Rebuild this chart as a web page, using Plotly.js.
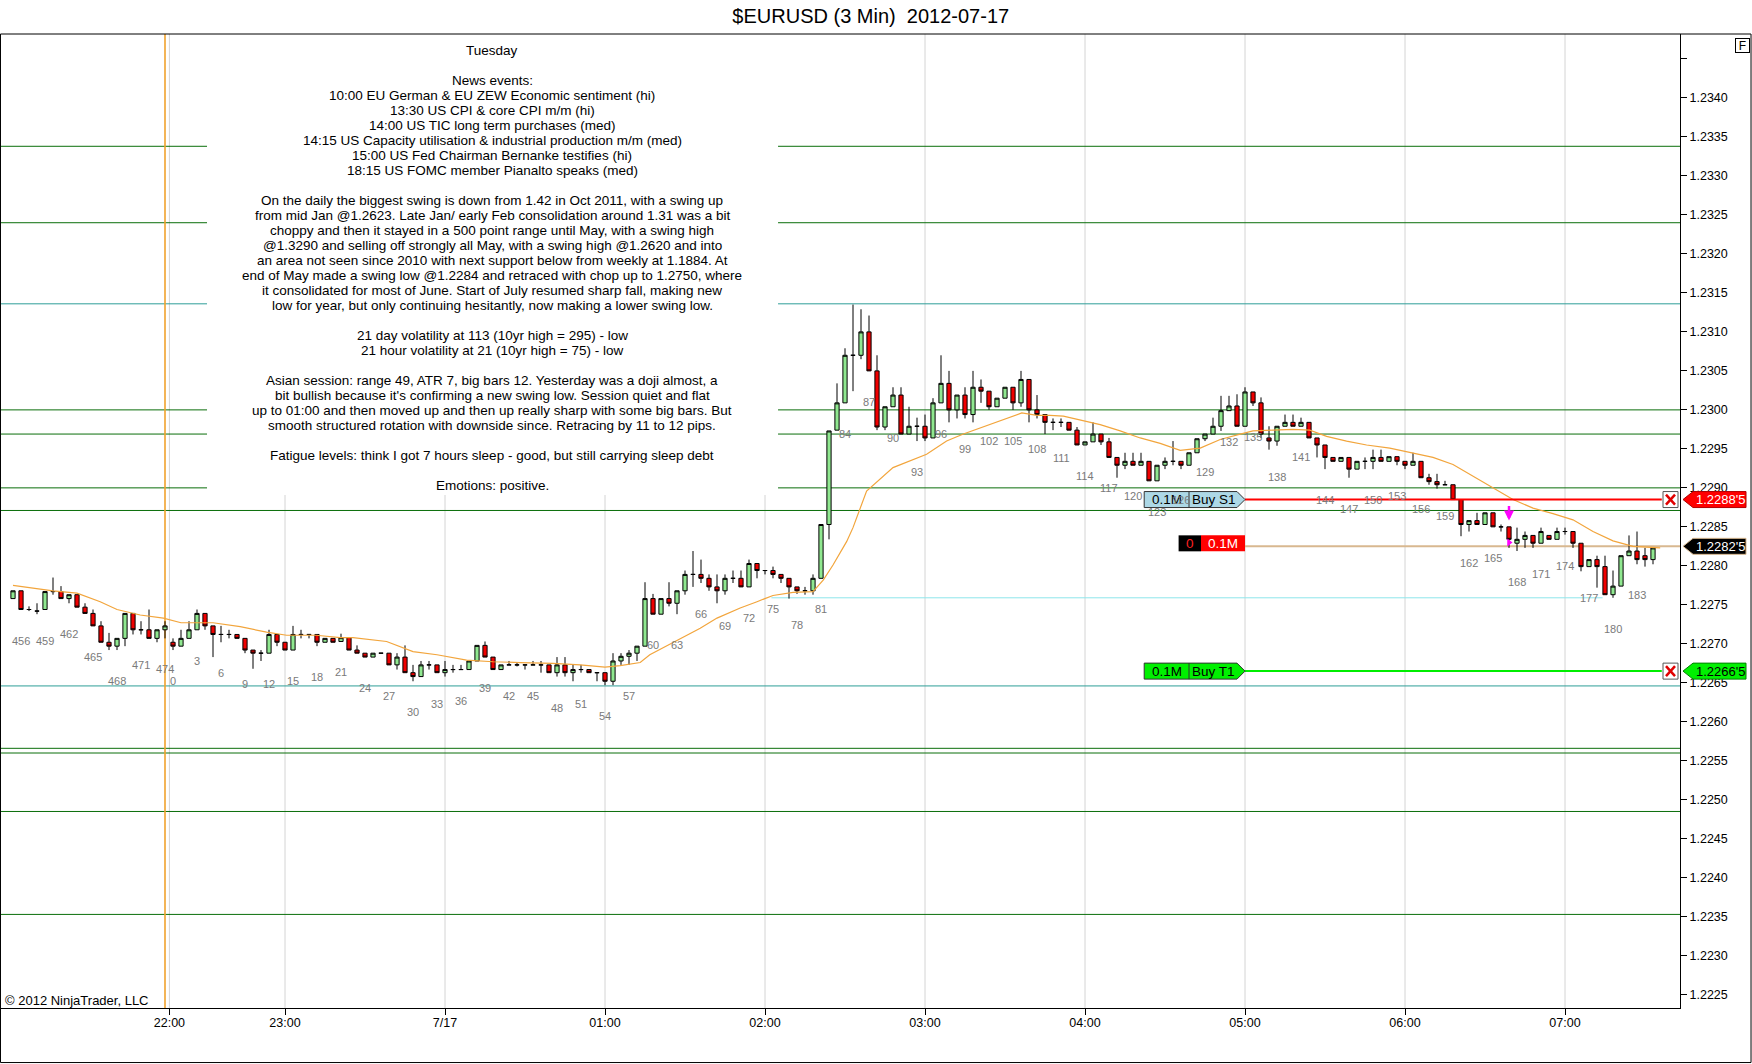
<!DOCTYPE html>
<html>
<head>
<meta charset="utf-8">
<script src="https://cdn.plot.ly/plotly-3.0.1.min.js"></script>
<style>html,body{margin:0;padding:0;background:#fff;}#chart{width:1752px;height:1064px;}</style>
</head>
<body>
<div id="chart"></div>
<script>
// ---------------- DATA ----------------
// bar numbers: previous session 455..474, then new session 0..185
const prevSessionFirstBar = 455, prevSessionLastBar = 474, sessionLastBar = 185;

const open = [
1.22758,1.22768,1.22744,1.22742,1.22744,1.22767,1.22767,1.22758,1.22763,1.22747,
1.22739,1.22723,1.22702,1.22697,1.22707,1.22739,1.22718,1.22718,1.22707,1.22718,
1.22702,1.22697,1.22707,1.22718,1.22739,1.22723,1.22712,1.22712,1.22712,1.22707,
1.22692,1.22688,1.22688,1.22712,1.22702,1.22692,1.22712,1.22712,1.22712,1.22702,
1.22707,1.22703,1.22708,1.22692,1.22688,1.22683,1.22688,1.22688,1.22673,1.22683,
1.22663,1.22658,1.22673,1.22673,1.22663,1.22667,1.22667,1.22667,1.22678,1.22698,
1.22683,1.22667,1.22673,1.22673,1.22673,1.22673,1.22673,1.22673,1.22663,1.22673,
1.22663,1.22667,1.22667,1.22663,1.22663,1.22652,1.22678,1.22684,1.22688,1.22697,
1.22758,1.22738,1.22758,1.22752,1.22768,1.22789,1.22789,1.22784,1.22773,1.22768,
1.22784,1.22784,1.22773,1.22803,1.22794,1.22794,1.22789,1.22784,1.22773,1.22768,
1.22768,1.22784,1.22853,1.22974,1.23009,1.23070,1.23070,1.23100,1.23050,1.22978,
1.23004,1.23019,1.22969,1.22979,1.22979,1.22964,1.23009,1.23034,1.23000,1.23019,
1.22994,1.23029,1.23024,1.23004,1.23015,1.23029,1.23009,1.23039,1.23000,1.22994,
1.22984,1.22984,1.22984,1.22974,1.22955,1.22959,1.22969,1.22959,1.22939,1.22929,
1.22934,1.22929,1.22934,1.22909,1.22929,1.22934,1.22934,1.22929,1.22945,1.22963,
1.22969,1.22979,1.22999,1.23005,1.22979,1.23023,1.23009,1.22964,1.22960,1.22979,
1.22984,1.22979,1.22984,1.22964,1.22955,1.22939,1.22934,1.22939,1.22924,1.22934,
1.22934,1.22939,1.22934,1.22940,1.22934,1.22929,1.22934,1.22913,1.22908,1.22904,
1.22904,1.22885,1.22853,1.22858,1.22853,1.22868,1.22850,1.22850,1.22829,1.22834,
1.22839,1.22829,1.22839,1.22834,1.22844,1.22844,1.22829,1.22799,1.22808,1.22799,
1.22763,1.22774,1.22813,1.22819,1.22813,1.22808];
const high = [
1.22768,1.22768,1.22748,1.22752,1.22767,1.22785,1.22774,1.22763,1.22763,1.22752,
1.22744,1.22729,1.22714,1.22707,1.22739,1.22739,1.22729,1.22744,1.22718,1.22729,
1.22707,1.22718,1.22729,1.22744,1.22739,1.22723,1.22723,1.22718,1.22712,1.22707,
1.22692,1.22692,1.22718,1.22712,1.22702,1.22723,1.22718,1.22712,1.22712,1.22707,
1.22707,1.22713,1.22708,1.22698,1.22688,1.22688,1.22688,1.22688,1.22688,1.22698,
1.22673,1.22678,1.22678,1.22673,1.22678,1.22673,1.22673,1.22678,1.22698,1.22703,
1.22683,1.22673,1.22678,1.22676,1.22673,1.22678,1.22678,1.22673,1.22683,1.22683,
1.22673,1.22673,1.22667,1.22663,1.22663,1.22688,1.22688,1.22692,1.22697,1.22779,
1.22764,1.22758,1.22779,1.22768,1.22794,1.22819,1.22808,1.22789,1.22789,1.22789,
1.22794,1.22794,1.22808,1.22803,1.22794,1.22799,1.22789,1.22784,1.22773,1.22773,
1.22789,1.22853,1.22973,1.23034,1.23079,1.23135,1.23129,1.23121,1.23070,1.23004,
1.23029,1.23029,1.23004,1.22990,1.22994,1.23015,1.23070,1.23050,1.23019,1.23029,
1.23050,1.23039,1.23024,1.23015,1.23029,1.23029,1.23050,1.23039,1.23019,1.22994,
1.22989,1.22989,1.22984,1.22978,1.22959,1.22984,1.22969,1.22964,1.22939,1.22945,
1.22945,1.22945,1.22934,1.22929,1.22939,1.22960,1.22934,1.22945,1.22963,1.22969,
1.22990,1.23018,1.23018,1.23020,1.23029,1.23023,1.23016,1.22979,1.22979,1.22994,
1.22994,1.22990,1.22984,1.22964,1.22955,1.22939,1.22939,1.22939,1.22934,1.22939,
1.22949,1.22949,1.22940,1.22940,1.22934,1.22945,1.22934,1.22918,1.22918,1.22909,
1.22904,1.22885,1.22858,1.22868,1.22868,1.22868,1.22853,1.22850,1.22849,1.22844,
1.22839,1.22849,1.22839,1.22849,1.22849,1.22844,1.22829,1.22808,1.22813,1.22813,
1.22794,1.22813,1.22839,1.22844,1.22823,1.22823];
const low = [
1.22758,1.22744,1.22742,1.22738,1.22744,1.22763,1.22758,1.22752,1.22747,1.22739,
1.22723,1.22702,1.22692,1.22692,1.22697,1.22712,1.22712,1.22707,1.22702,1.22707,
1.22692,1.22697,1.22707,1.22718,1.22718,1.22683,1.22702,1.22707,1.22707,1.22688,
1.22668,1.22678,1.22688,1.22697,1.22692,1.22692,1.22707,1.22707,1.22697,1.22702,
1.22702,1.22703,1.22692,1.22688,1.22683,1.22683,1.22688,1.22673,1.22667,1.22663,
1.22652,1.22658,1.22667,1.22663,1.22658,1.22663,1.22667,1.22667,1.22678,1.22683,
1.22667,1.22667,1.22673,1.22671,1.22667,1.22673,1.22663,1.22663,1.22658,1.22658,
1.22652,1.22663,1.22663,1.22652,1.22647,1.22647,1.22673,1.22673,1.22678,1.22697,
1.22738,1.22738,1.22748,1.22738,1.22763,1.22773,1.22778,1.22768,1.22752,1.22763,
1.22778,1.22773,1.22773,1.22784,1.22789,1.22784,1.22778,1.22758,1.22764,1.22763,
1.22763,1.22784,1.22834,1.22974,1.23009,1.23024,1.23065,1.23050,1.22974,1.22974,
1.23004,1.22969,1.22969,1.22960,1.22960,1.22964,1.23009,1.22984,1.22989,1.22989,
1.22984,1.23009,1.23000,1.23004,1.23015,1.23000,1.23004,1.22984,1.22989,1.22969,
1.22974,1.22978,1.22974,1.22955,1.22955,1.22959,1.22955,1.22939,1.22913,1.22924,
1.22929,1.22929,1.22909,1.22909,1.22924,1.22929,1.22924,1.22929,1.22945,1.22960,
1.22969,1.22973,1.22999,1.22979,1.22979,1.23005,1.22964,1.22949,1.22954,1.22979,
1.22979,1.22979,1.22964,1.22939,1.22924,1.22934,1.22934,1.22913,1.22924,1.22924,
1.22924,1.22934,1.22934,1.22929,1.22924,1.22929,1.22913,1.22904,1.22899,1.22904,
1.22885,1.22838,1.22844,1.22853,1.22853,1.22850,1.22844,1.22823,1.22819,1.22823,
1.22823,1.22829,1.22834,1.22834,1.22840,1.22823,1.22793,1.22799,1.22772,1.22763,
1.22759,1.22774,1.22813,1.22802,1.22799,1.22802];
const close = [
1.22768,1.22744,1.22744,1.22742,1.22767,1.22767,1.22758,1.22763,1.22747,1.22739,
1.22723,1.22702,1.22697,1.22707,1.22739,1.22718,1.22718,1.22707,1.22718,1.22723,
1.22697,1.22707,1.22718,1.22739,1.22723,1.22712,1.22712,1.22712,1.22707,1.22692,
1.22688,1.22688,1.22712,1.22702,1.22692,1.22712,1.22712,1.22712,1.22702,1.22707,
1.22702,1.22708,1.22692,1.22688,1.22683,1.22688,1.22688,1.22673,1.22683,1.22663,
1.22658,1.22673,1.22673,1.22663,1.22667,1.22667,1.22667,1.22678,1.22698,1.22683,
1.22667,1.22673,1.22673,1.22673,1.22673,1.22673,1.22673,1.22663,1.22673,1.22663,
1.22667,1.22667,1.22663,1.22663,1.22652,1.22678,1.22684,1.22688,1.22697,1.22758,
1.22738,1.22758,1.22752,1.22768,1.22789,1.22789,1.22784,1.22773,1.22768,1.22784,
1.22784,1.22773,1.22803,1.22794,1.22794,1.22789,1.22784,1.22773,1.22768,1.22768,
1.22784,1.22853,1.22973,1.23009,1.23070,1.23070,1.23100,1.23050,1.22978,1.23004,
1.23019,1.22969,1.22979,1.22979,1.22964,1.23009,1.23034,1.23000,1.23019,1.22994,
1.23029,1.23024,1.23004,1.23015,1.23029,1.23009,1.23039,1.23000,1.22994,1.22984,
1.22984,1.22984,1.22974,1.22955,1.22959,1.22969,1.22959,1.22939,1.22929,1.22934,
1.22929,1.22934,1.22909,1.22929,1.22934,1.22934,1.22929,1.22945,1.22963,1.22969,
1.22979,1.22999,1.23005,1.22979,1.23023,1.23009,1.22969,1.22960,1.22979,1.22984,
1.22979,1.22984,1.22964,1.22955,1.22939,1.22934,1.22939,1.22924,1.22934,1.22934,
1.22939,1.22934,1.22940,1.22934,1.22929,1.22934,1.22913,1.22908,1.22904,1.22904,
1.22885,1.22853,1.22858,1.22853,1.22868,1.22850,1.22850,1.22834,1.22834,1.22839,
1.22829,1.22844,1.22834,1.22844,1.22844,1.22829,1.22799,1.22808,1.22799,1.22763,
1.22774,1.22813,1.22819,1.22808,1.22808,1.22823];

// moving average line (bar position, price)
const maPos = [0,5.0,8.0,10.9,13.0,15.9,18.8,21.0,25.0,28.4,31.7,34.2,37.9,40.9,42.5,46.7,50.0,53.0,56.7,60.0,
63.4,67.5,70.9,74.0,75.9,78.4,79.6,81.7,83.8,85.9,88.0,90.9,93.0,95.0,97.5,100.0,101.3,102.5,104.2,105.0,
106.7,110.0,114.2,116.7,118.8,120.9,123.0,124.6,126.1,128.0,129.6,131.3,133.8,135.9,138.4,140.9,143.4,145.9,148.4,150.9,
153.4,155.0,157.5,160.0,162.1,164.2,166.7,169.2,172.1,175.0,177.5,180.0,182.5,185.0,187.5,190.0,192.5,195.0,197.5,200.0,
202.5,204.2,205.9];
const maVal = [1.22775,1.22768,1.22765,1.22754,1.22744,1.22737,1.22733,1.22727,1.22727,1.22722,1.22715,1.22711,1.22711,1.22708,1.22708,1.22703,1.22690,1.22686,1.22679,1.22677,
1.22676,1.22675,1.22673,1.22670,1.22672,1.22676,1.22686,1.22697,1.22709,1.22720,1.22733,1.22746,1.22754,1.22762,1.22766,1.22767,1.22782,1.22801,1.22831,1.22849,
1.22896,1.22926,1.22943,1.22960,1.22969,1.22977,1.22984,1.22991,1.22996,1.22993,1.22993,1.22992,1.22986,1.22981,1.22973,1.22964,1.22957,1.22948,1.22951,1.22962,
1.22969,1.22973,1.22974,1.22975,1.22974,1.22966,1.22960,1.22955,1.22951,1.22945,1.22939,1.22930,1.22915,1.22900,1.22885,1.22874,1.22867,1.22859,1.22844,1.22832,
1.22825,1.22824,1.22823];

// horizontal levels drawn on chart
const levelPrices = [1.23338,1.23240,1.23136,1.23000,1.22969,1.22900,1.22871,1.22646,1.22566,1.22560,1.22485,1.22353];
const levelKinds  = ['g','g','t','g','g','g','g','t','g','g','g','g'];
const supportLevel = 1.22759;

// orders / position
const buyStopPrice = 1.22885, positionPrice = 1.22825, targetPrice = 1.22665;
const buyStopLabel = "1.2288'5", positionLabel = "1.2282'5", targetLabel = "1.2266'5";
const orderQty = "0.1M", positionQty = "0";
const entryBar = [167], entryPrice = [1.22830], signalBar = 167, signalPrice = 1.22858;

// axis ticks
const timeTickBars = [-0.45, 14, 34, 54, 74, 94, 114, 134, 154, 174];
const timeTickText = ['22:00','23:00','7/17','01:00','02:00','03:00','04:00','05:00','06:00','07:00'];
const priceTicks = [1.2225,1.2230,1.2235,1.2240,1.2245,1.2250,1.2255,1.2260,1.2265,1.2270,1.2275,1.2280,1.2285,1.2290,1.2295,1.2300,1.2305,1.2310,1.2315,1.2320,1.2325,1.2330,1.2335,1.2340,1.2345];
const priceTickText = ['1.2225','1.2230','1.2235','1.2240','1.2245','1.2250','1.2255','1.2260','1.2265','1.2270','1.2275','1.2280','1.2285','1.2290','1.2295','1.2300','1.2305','1.2310','1.2315','1.2320','1.2325','1.2330','1.2335','1.2340',''];
const sessionBreakBar = -1;

const noteLines = [
"Tuesday","","News events:",
"10:00 EU German & EU ZEW Economic sentiment (hi)",
"13:30 US CPI & core CPI m/m (hi)",
"14:00 US TIC long term purchases (med)",
"14:15 US Capacity utilisation & industrial production m/m (med)",
"15:00 US Fed Chairman Bernanke testifies (hi)",
"18:15 US FOMC member Pianalto speaks (med)","",
"On the daily the biggest swing is down from 1.42 in Oct 2011, with a swing up",
"from mid Jan @1.2623. Late Jan/ early Feb consolidation around 1.31 was a bit",
"choppy and then it stayed in a 500 point range until May, with a swing high",
"@1.3290 and selling off strongly all May, with a swing high @1.2620 and into",
"an area not seen since 2010 with next support below from weekly at 1.1884. At",
"end of May made a swing low @1.2284 and retraced with chop up to 1.2750, where",
"it consolidated for most of June. Start of July resumed sharp fall, making new",
"low for year, but only continuing hesitantly, now making a lower swing low.","",
"21 day volatility at 113 (10yr high = 295) - low",
"21 hour volatility at 21 (10yr high = 75) - low","",
"Asian session: range 49, ATR 7, big bars 12. Yesterday was a doji almost, a",
"bit bullish because it's confirming a new swing low. Session quiet and flat",
"up to 01:00 and then moved up and then up really sharp with some big bars. But",
"smooth structured rotation with downside since. Retracing by 11 to 12 pips.","",
"Fatigue levels: think I got 7 hours sleep - good, but still carrying sleep debt","",
"Emotions: positive."
];

// ---------------- BUILD ----------------
const FONT = 'Liberation Sans, Arial, sans-serif';
const barNums = [];
for (let b = prevSessionFirstBar; b <= prevSessionLastBar; b++) barNums.push(b);
for (let b = 0; b <= sessionLastBar; b++) barNums.push(b);
const pos = barNums.map((_, i) => i);
const posOfBar = b => prevSessionLastBar - prevSessionFirstBar + 1 + b;
const tickPos = timeTickBars.map(b => posOfBar(b));

const traces = [
  {type:'candlestick', x:pos, open:open, high:high, low:low, close:close,
   increasing:{line:{color:'#000',width:1}, fillcolor:'#90E890'},
   decreasing:{line:{color:'#000',width:1}, fillcolor:'#F00000'},
   whiskerwidth:0, hoverinfo:'skip', showlegend:false},
  {type:'scatter', mode:'lines', x:maPos, y:maVal, line:{color:'#F2A53C', width:1.2},
   hoverinfo:'skip', showlegend:false},
  {type:'scatter', mode:'markers', x:entryBar.map(posOfBar), y:entryPrice,
   marker:{symbol:'triangle-right', size:7, color:'#FF00FF'}, hoverinfo:'skip', showlegend:false}
];

const shapes = [];
const annotations = [];
// vertical time grid
tickPos.forEach(x => shapes.push({type:'line', xref:'x', x0:x, x1:x, yref:'paper', y0:0, y1:1,
  line:{color:'#D4D4D4', width:1}, layer:'below'}));
const levelColor = {g:'#0A6E0A', t:'#2E9E98'};
levelPrices.forEach((p, i) => shapes.push({type:'line', xref:'paper', x0:0, x1:1, yref:'y', y0:p, y1:p,
  line:{color:levelColor[levelKinds[i]], width:1}, layer:'below'}));
shapes.push({type:'line', xref:'x', x0:94.8, x1:198.7, yref:'y', y0:supportLevel, y1:supportLevel,
  line:{color:'#8EE6EC', width:1}, layer:'below'});
// session break line
shapes.push({type:'line', xref:'x', x0:posOfBar(sessionBreakBar), x1:posOfBar(sessionBreakBar), yref:'paper', y0:0, y1:1,
  line:{color:'#F0A22E', width:1.6}, layer:'below'});
// white note box
shapes.push({type:'rect', xref:'paper', x0:0.1227, x1:0.4628, yref:'paper', y0:0.5267, y1:1,
  fillcolor:'#FFFFFF', line:{width:0}, layer:'below'});

// order lines
shapes.push({type:'line', xref:'x', x0:154, x1:208.375, yref:'y', y0:positionPrice, y1:positionPrice, line:{color:'#D8B890', width:2}, layer:'below'});
shapes.push({type:'line', xref:'x', x0:154, x1:206.1, yref:'y', y0:buyStopPrice, y1:buyStopPrice, line:{color:'#FF0000', width:2}, layer:'above'});
shapes.push({type:'line', xref:'x', x0:154, x1:206.1, yref:'y', y0:targetPrice, y1:targetPrice, line:{color:'#00EE00', width:2}, layer:'above'});

// order boxes
function orderBox(price, fill, leftText, rightText) {
  shapes.push({type:'path', xref:'x', yref:'y', ysizemode:'pixel', yanchor:price,
    path:'M141.4,8 L153.0,8 L154.0,0 L153.0,-8 L141.4,-8 Z', fillcolor:fill, line:{color:'#333', width:1}, layer:'above'});
  shapes.push({type:'line', xref:'x', x0:147, x1:147, yref:'y', ysizemode:'pixel', yanchor:price, y0:-8, y1:8,
    line:{color:'#333', width:1}, layer:'above'});
  annotations.push({xref:'x', x:144.2, yref:'y', y:price, text:leftText, showarrow:false, font:{family:FONT, size:13.5, color:'#000'}});
  annotations.push({xref:'x', x:150.1, yref:'y', y:price, text:rightText, showarrow:false, font:{family:FONT, size:13.5, color:'#000'}});
}
orderBox(buyStopPrice, '#ADD8E6', orderQty, 'Buy S1');
orderBox(targetPrice, '#00F000', orderQty, 'Buy T1');
// position box
shapes.push({type:'rect', xref:'x', x0:145.7, x1:148.5, yref:'y', ysizemode:'pixel', yanchor:positionPrice, y0:-5, y1:11,
  fillcolor:'#000', line:{width:0}, layer:'above'});
shapes.push({type:'rect', xref:'x', x0:148.5, x1:154.0, yref:'y', ysizemode:'pixel', yanchor:positionPrice, y0:-5, y1:11,
  fillcolor:'#FF0000', line:{width:0}, layer:'above'});
annotations.push({xref:'x', x:147.1, yref:'y', y:positionPrice, yshift:3, text:positionQty, showarrow:false, font:{family:FONT, size:13.5, color:'#FF2020'}});
annotations.push({xref:'x', x:151.25, yref:'y', y:positionPrice, yshift:3, text:orderQty, showarrow:false, font:{family:FONT, size:13.5, color:'#FFF'}});

// close X boxes
[buyStopPrice, targetPrice].forEach(p => {
  shapes.push({type:'rect', xref:'paper', xsizemode:'pixel', xanchor:1, x0:-17, x1:-2, yref:'y', ysizemode:'pixel', yanchor:p, y0:-8, y1:8,
    fillcolor:'#FFF', line:{color:'#555', width:1}, layer:'above'});
  shapes.push({type:'line', xref:'paper', xsizemode:'pixel', xanchor:1, x0:-14, x1:-5, yref:'y', ysizemode:'pixel', yanchor:p, y0:-5, y1:5,
    line:{color:'#E00000', width:2.5}, layer:'above'});
  shapes.push({type:'line', xref:'paper', xsizemode:'pixel', xanchor:1, x0:-14, x1:-5, yref:'y', ysizemode:'pixel', yanchor:p, y0:5, y1:-5,
    line:{color:'#E00000', width:2.5}, layer:'above'});
});

// axis price labels
function axisLabel(price, text, fill, border, color) {
  shapes.push({type:'path', xref:'paper', xsizemode:'pixel', xanchor:1, yref:'y', ysizemode:'pixel', yanchor:price,
    path:'M3,0 L13,8 L66,8 L66,-8 L13,-8 Z', fillcolor:fill, line:{color:border, width:1}, layer:'above'});
  annotations.push({xref:'paper', x:1, xanchor:'left', xshift:14, yref:'y', y:price, yanchor:'middle', text:text,
    showarrow:false, font:{family:FONT, size:13, color:color}});
}
axisLabel(buyStopPrice, buyStopLabel, '#FF0000', '#B00000', '#FFF');
axisLabel(positionPrice, positionLabel, '#000', '#D8B890', '#FFF');
axisLabel(targetPrice, targetLabel, '#00F000', '#008000', '#000');

// signal arrow
annotations.push({xref:'x', x:posOfBar(signalBar), yref:'y', y:signalPrice, text:'', showarrow:true,
  arrowhead:2, arrowsize:0.8, arrowwidth:2.5, arrowcolor:'#FF00FF', ax:0, ay:-16});

// bar number labels (every 3rd bar)
barNums.forEach((b, i) => {
  if (b % 3 === 0) annotations.push({xref:'x', x:pos[i], yref:'y', y:low[i], yshift:-31, yanchor:'middle',
    text:String(b), showarrow:false, font:{family:FONT, size:11, color:'#7A7A7A'}});
});

// notes
noteLines.forEach((t, i) => {
  if (t) annotations.push({xref:'paper', x:0.29256, xanchor:'center', yref:'paper', y:1, yanchor:'middle',
    yshift:-16 - 15 * i, text:t, showarrow:false, font:{family:FONT, size:13.5, color:'#000'}});
});

annotations.push({xref:'paper', x:0.001, xanchor:'left', yref:'paper', y:0.0075, yanchor:'middle',
  text:'© 2012 NinjaTrader, LLC', showarrow:false, font:{family:FONT, size:13, color:'#000'}});
annotations.push({xref:'paper', x:1.0372, xanchor:'center', yref:'paper', y:0.9887, yanchor:'middle',
  text:'F', showarrow:false, bordercolor:'#000', borderwidth:1, borderpad:0, width:13, height:13, bgcolor:'#FFF',
  font:{family:FONT, size:12, color:'#000'}});

// outer frame
shapes.push({type:'rect', xref:'paper', x0:-0.0003, x1:1.0423, yref:'paper', y0:-0.0560, y1:1,
  line:{color:'#000', width:1}, fillcolor:'rgba(0,0,0,0)', layer:'above'});

const layout = {
  width:1752, height:1064,
  margin:{l:1, r:72, t:34, b:56},
  paper_bgcolor:'#FFF', plot_bgcolor:'#FFF',
  showlegend:false, hovermode:false, boxgap:0.25,
  title:{text:'$EURUSD (3 Min)\u00a0 2012-07-17', x:0.497, xanchor:'center', y:0.985, yanchor:'middle',
    font:{family:FONT, size:20, color:'#000'}},
  xaxis:{range:[-1.5, 208.375], rangeslider:{visible:false}, showgrid:false,
    zeroline:false, tickmode:'array', tickvals:tickPos, ticktext:timeTickText,
    ticks:'outside', ticklen:6, tickcolor:'#000', showline:true, linecolor:'#000', linewidth:1,
    ticklabelstandoff:-3,
    tickfont:{family:FONT, size:12.5, color:'#000'}, fixedrange:true},
  yaxis:{side:'right', range:[1.22233, 1.23482], showgrid:false, zeroline:false,
    tickmode:'array', tickvals:priceTicks, ticktext:priceTickText,
    ticks:'outside', ticklen:6, tickcolor:'#000', showline:true, linecolor:'#000', linewidth:1,
    tickfont:{family:FONT, size:12.5, color:'#000'}, fixedrange:true},
  shapes:shapes, annotations:annotations
};

Plotly.newPlot('chart', traces, layout, {staticPlot:true, displayModeBar:false});
</script>
</body>
</html>
